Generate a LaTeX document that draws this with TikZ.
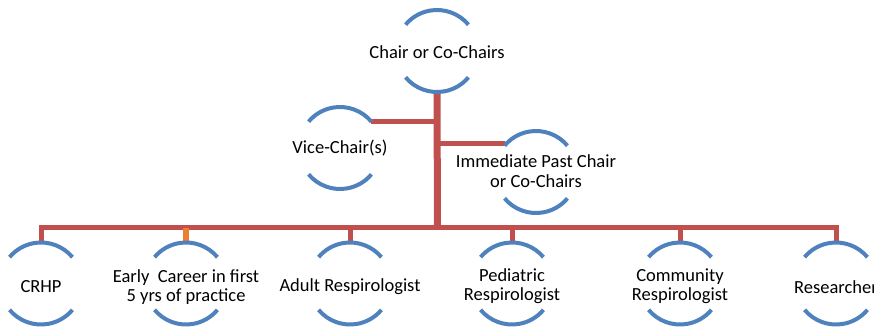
\documentclass[tikz,border=0pt]{standalone}
\usepackage{fontspec}
\setmainfont{Carlito}
\definecolor{ringblue}{HTML}{4F81BD}
\definecolor{linkred}{HTML}{C0504D}
\definecolor{linkorange}{HTML}{ED7D31}
\tikzset{
    ring/.style={ringblue, line width=4pt},
    link/.style={linkred, line width=5pt},
    role/.style={align=center, inner sep=0pt, font=\fontsize{18.5}{19.5}\selectfont}
}
% two blue half rings round a node, #2 lifts the ring centre
\newcommand\halfrings[2]{
    \draw[ring] ([shift={(40:41)}]#1.center) ++(0,#2) arc[start angle=40, end angle=140, radius=41];
    \draw[ring] ([shift={(220:41)}]#1.center) ++(0,#2) arc[start angle=220, end angle=320, radius=41];
}
\begin{document}
\begin{tikzpicture}[x=1pt, y=1pt]
    \useasboundingbox (0,0) rectangle (874,-335);

    \node[role] (chair) at (437,-52) {Chair or Co-Chairs};
    \node[role] (vice) at (340,-148) {Vice-Chair(s)};
    \node[role] (past) at (536,-171) {Immediate Past Chair\\or Co-Chairs};

    \node[role] (crhp) at (41,-287) {CRHP};
    \node[role] (early) at (186,-287) {Early~ Career in first\\5 yrs of practice};
    \node[role] (adult) at (350,-287) {Adult Respirologist};
    \node[role] (pediatric) at (512,-286) {Pediatric\\Respirologist};
    \node[role] (community) at (680,-286) {Community\\Respirologist};
    \node[role] (research) at (836,-287) {Researcher};

    \coordinate (bus) at (437.5,-227);

    % links
    \draw[link, line width=7pt] ([yshift=-41pt]chair.center) ++(0,-1) -- (bus);
    \draw[link] ([shift={(40:41)}]vice.center) ++(0,0.5) -- +(66,0) coordinate (vicejoin);
    \draw[link] ([shift={(140:41)}]past.center) ++(0,1) -- +(-66,0) coordinate (pastjoin);
    \draw[link] ([yshift=44.5pt]crhp.center) |- (bus) -| ([yshift=44.5pt]research.center);
    \draw[link] (adult.center |- bus) -- ([yshift=44.5pt]adult.center);
    \draw[link] (pediatric.center |- bus) -- ([yshift=43.5pt]pediatric.center);
    \draw[link] (community.center |- bus) -- ([yshift=43.5pt]community.center);
    \draw[link, linkorange, line width=6pt] (early.center |- bus) ++(0,-1) -- ([yshift=44.5pt]early.center);

    \halfrings{chair}{1}
    \halfrings{vice}{0}
    \halfrings{past}{-1}
    \halfrings{crhp}{3.5}
    \halfrings{early}{3.5}
    \halfrings{adult}{3.5}
    \halfrings{pediatric}{2.5}
    \halfrings{community}{2.5}
    \halfrings{research}{3.5}
\end{tikzpicture}
\end{document}
